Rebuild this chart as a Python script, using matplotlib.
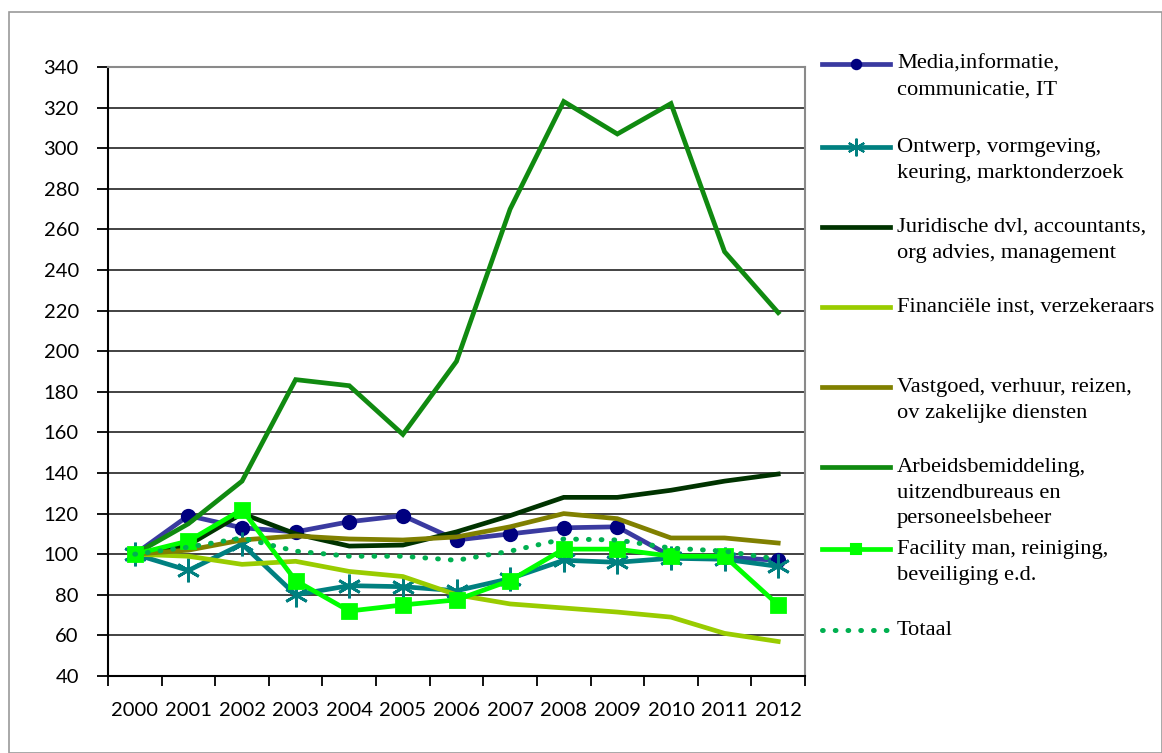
import numpy as np
import matplotlib
matplotlib.use('Agg')
import matplotlib.pyplot as plt
from matplotlib.lines import Line2D
from matplotlib.patches import Rectangle

plt.rcParams['font.family'] = ['Liberation Serif', 'DejaVu Serif']

years = ['2000', '2001', '2002', '2003', '2004', '2005', '2006',
         '2007', '2008', '2009', '2010', '2011', '2012']

media = [100, 119, 113, 111, 116, 119, 107, 110, 113, 113.5, 99, 98.5, 97]
ontwerp = [100, 92, 105, 80, 84.5, 84, 82, 88, 97, 96, 98, 97.5, 94]
juridisch = [100, 104.5, 120, 110, 104, 104.5, 111, 119, 128, 128, 131.5, 136, 139.5]
financieel = [100, 99, 95, 96.5, 91.5, 89, 80, 75.5, 73.5, 71.5, 69, 61, 57]
vastgoed = [100, 102, 107, 109, 107.5, 107, 108.5, 113.5, 120, 117.5, 108, 108, 105.5]
arbeid = [100, 115, 136, 186, 183, 159, 195, 270, 323, 307, 322, 249, 219]
facility = [100, 106.5, 122, 87, 72, 75, 77.5, 87, 102.5, 102.5, 99, 99, 75]
totaal = [100, 103.5, 108, 101.5, 99, 99, 97, 101.5, 107.5, 107, 103, 101.5, 97.5]

labels = ['Media,informatie,\ncommunicatie, IT',
          'Ontwerp, vormgeving,\nkeuring, marktonderzoek',
          'Juridische dvl, accountants,\norg advies, management',
          'Financiële inst, verzekeraars',
          'Vastgoed, verhuur, reizen,\nov zakelijke diensten',
          'Arbeidsbemiddeling,\nuitzendbureaus en\npersoneelsbeheer',
          'Facility man, reiniging,\nbeveiliging e.d.',
          'Totaal']

# colour, marker, markersize, marker colour, linestyle
styles = [
    ('#3a3aa0', 'o', 9, '#000080', '-'),
    ('#008080', (6, 2, 0), 17, '#008080', '-'),
    ('#003300', None, 0, None, '-'),
    ('#99cc00', None, 0, None, '-'),
    ('#808000', None, 0, None, '-'),
    ('#108a10', None, 0, None, '-'),
    ('#00ff00', 's', 10, '#00ff00', '-'),
    ('#00b050', None, 0, None, ':'),
]
series = [media, ontwerp, juridisch, financieel, vastgoed, arbeid, facility, totaal]

fig = plt.figure(figsize=(11.62, 7.53), dpi=100)
fig.add_artist(Rectangle((9 / 1162, 0), 1 - 9 / 1162, 1 - 12 / 753,
                         transform=fig.transFigure, fill=False,
                         edgecolor='#9a9a9a', linewidth=1.2))

ax = fig.add_axes([108 / 1162, 1 - 676 / 753, 697 / 1162, 609 / 753])
x = np.arange(len(years))

for vals, (col, mk, ms, mcol, ls) in zip(series, styles):
    kw = dict(color=col, linewidth=3.4, linestyle=ls, solid_joinstyle='miter')
    if ls == ':':
        kw.update(dash_capstyle='round', dashes=(0.15, 2.4), linewidth=3.6)
    if mk is not None:
        kw.update(marker=mk, markersize=ms, markerfacecolor=mcol,
                  markeredgecolor=mcol, markeredgewidth=2)
    ax.plot(x, vals, **kw)

ax.set_xlim(-0.5, 12.5)
ax.set_ylim(40, 340)
ax.set_yticks(np.arange(40, 341, 20))
ax.set_xticks(x)
ax.set_xticklabels(years)
ax.set_xticks(np.arange(-0.5, 12.6, 1), minor=True)
ax.tick_params(axis='x', which='major', length=0, pad=19, labelsize=14.5)
ax.tick_params(axis='x', which='minor', length=7, width=1.3, color='black')
ax.tick_params(axis='y', length=8, width=1.3, pad=13, labelsize=14.5)
for t in ax.get_xticklabels() + ax.get_yticklabels():
    t.set_family(['Lato', 'DejaVu Sans'])
ax.yaxis.grid(True, color='#222222', linewidth=1.2)
ax.set_axisbelow(True)
for s in ['top', 'right']:
    ax.spines[s].set_color('#8a8a8a')
    ax.spines[s].set_linewidth(1.5)
for s in ['left', 'bottom']:
    ax.spines[s].set_color('black')
    ax.spines[s].set_linewidth(1.5)

# manual legend to the right of the plot
legend_y = [64, 147, 227, 307, 387, 467, 549, 630]
for lab, (col, mk, ms, mcol, ls), yp in zip(labels, styles, legend_y):
    yf = 1 - yp / 753
    kw = dict(color=col, linewidth=3.4, linestyle=ls, transform=fig.transFigure)
    if ls == ':':
        kw.update(dash_capstyle='round', dashes=(0.15, 2.4), linewidth=3.6)
    fig.add_artist(Line2D([822 / 1162, 890 / 1162], [yf, yf], **kw))
    if mk is not None:
        fig.add_artist(Line2D([856 / 1162], [yf], marker=mk,
                              markersize=ms * 0.75, markerfacecolor=mcol,
                              markeredgecolor=mcol, markeredgewidth=1.5,
                              linestyle='none', transform=fig.transFigure))
    fig.text(897 / 1162, 1 - (yp - 9) / 753, lab, fontsize=16.2,
             va='top', ha='left', linespacing=1.47)

fig.savefig('out.png', dpi=100)
